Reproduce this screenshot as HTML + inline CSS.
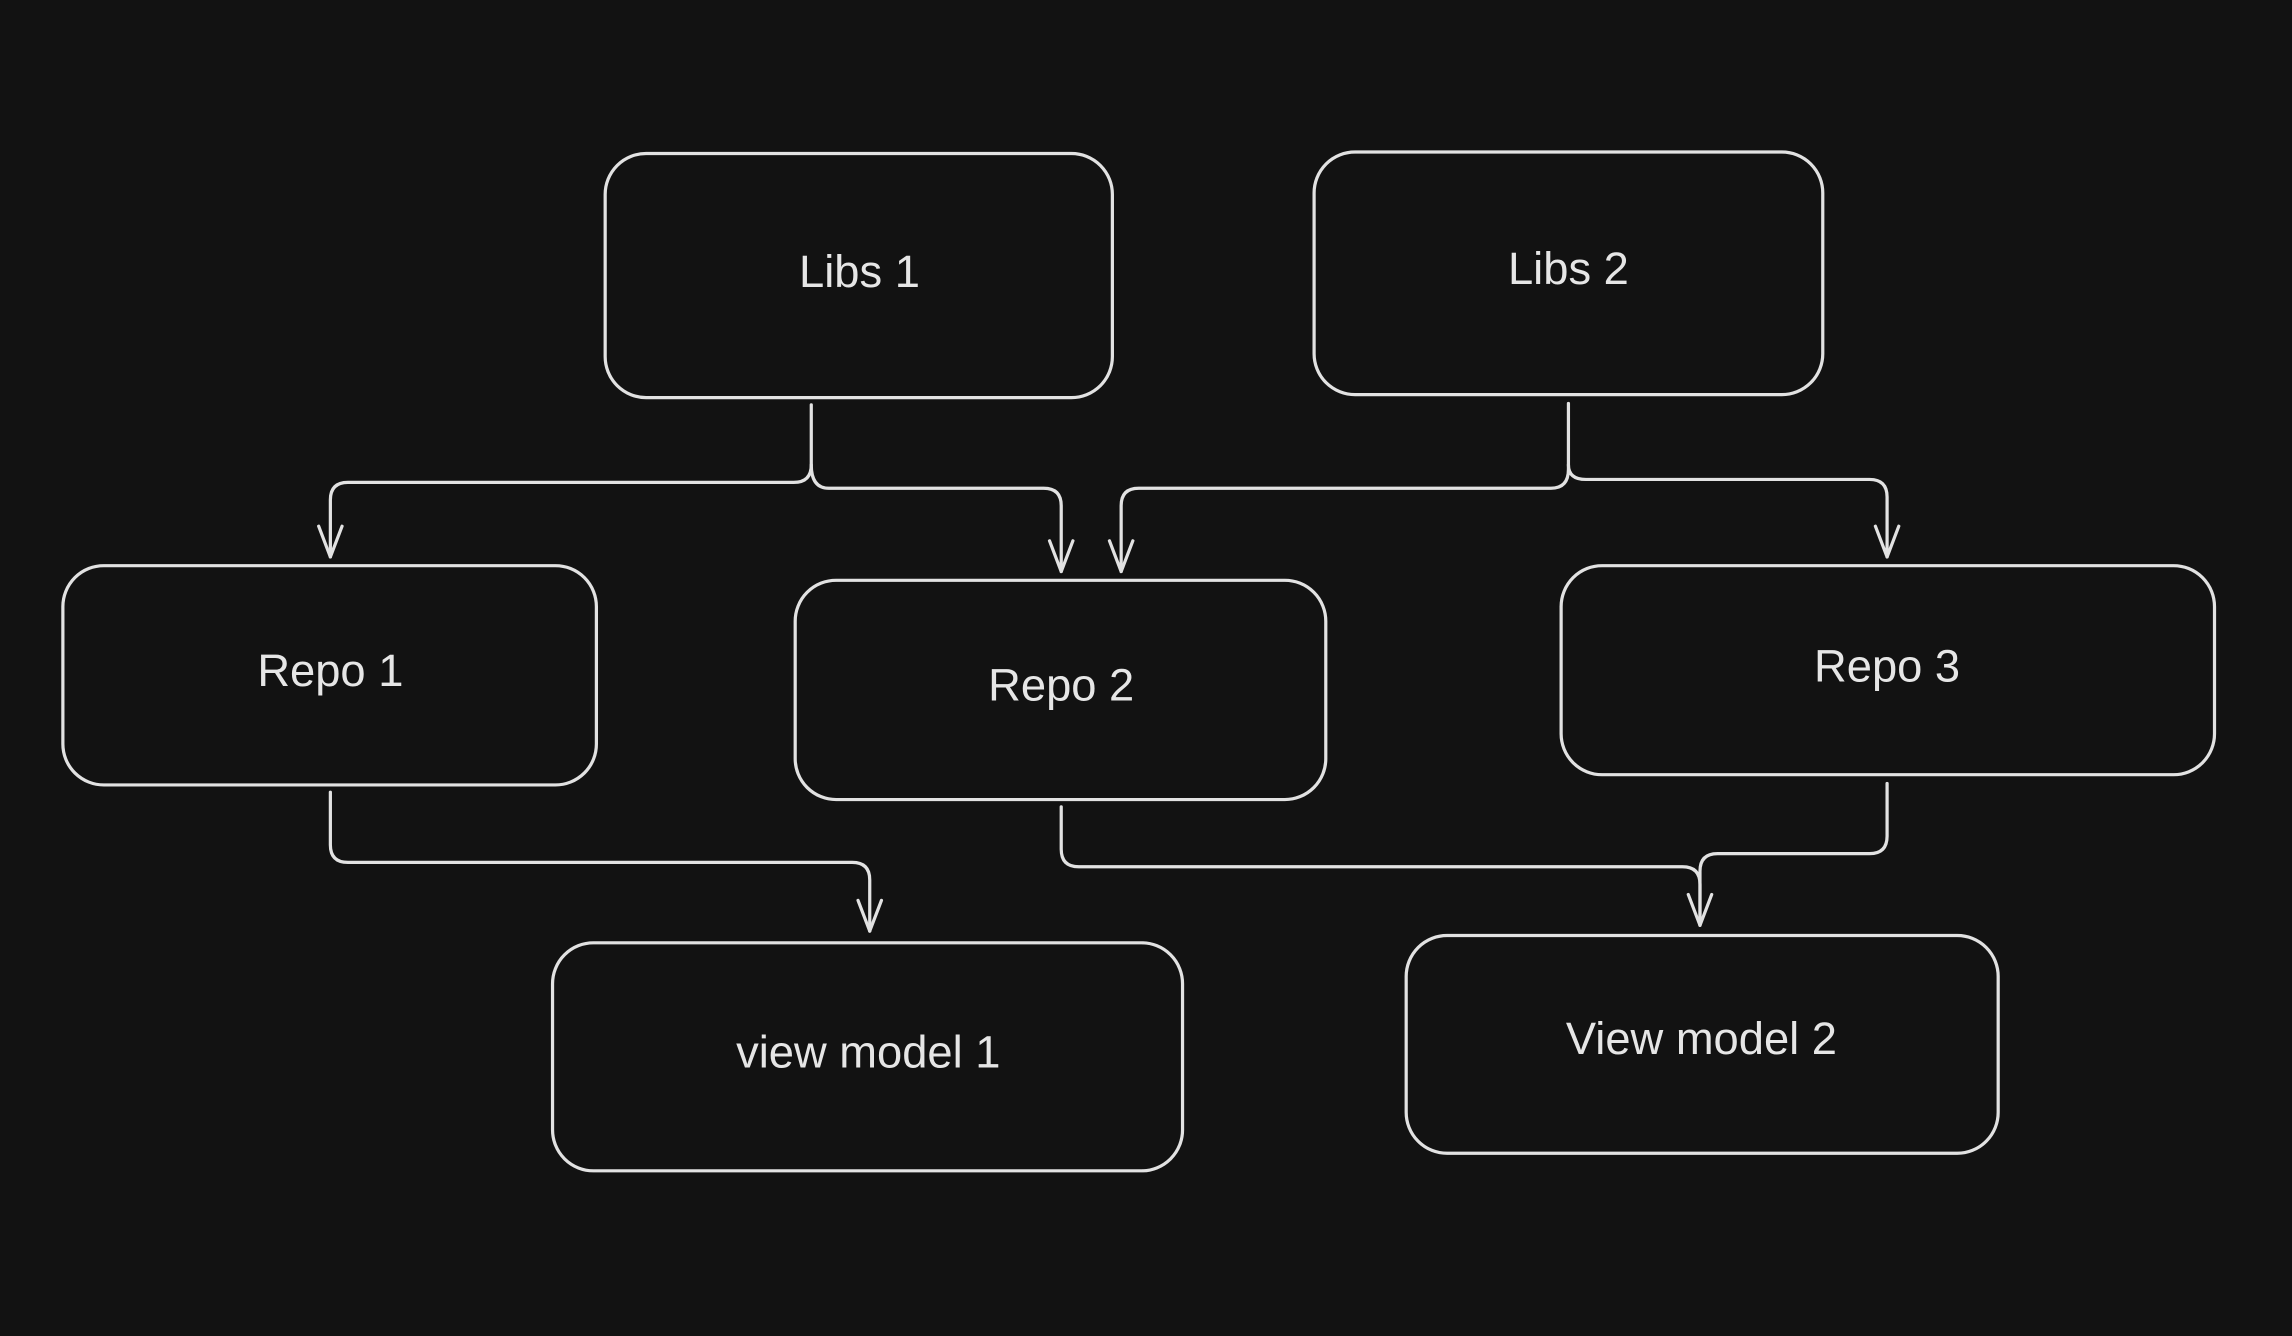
<!DOCTYPE html>
<html><head><meta charset="utf-8"><style>
html,body{margin:0;padding:0;background:#121212;}
svg{display:block;}
text{font-family:"Liberation Sans",sans-serif;font-size:31px;fill:#e6e6e6;text-anchor:middle;dominant-baseline:middle;}
</style></head><body>
<svg width="2292" height="1336" viewBox="0 0 1568 914" xmlns="http://www.w3.org/2000/svg">
<rect width="1568" height="914" fill="#121212"/>
<g fill="none" stroke="#e2e2e2" stroke-width="2.2" stroke-linecap="round" stroke-linejoin="round">
<rect x="414" y="105" width="347" height="167" rx="28"/>
<rect x="899" y="104" width="348" height="166" rx="28"/>
<rect x="43" y="387" width="365" height="150" rx="28"/>
<rect x="544" y="397" width="363" height="150" rx="28"/>
<rect x="1068" y="387" width="447" height="143" rx="28"/>
<rect x="378" y="645" width="431" height="156" rx="28"/>
<rect x="962" y="640" width="405" height="149" rx="28"/>
<!-- Libs1 connectors -->
<path d="M555 277 V318 Q555 330 543 330 H238 Q226 330 226 342 V381"/>
<path d="M218 360 L226 381 L234 360"/>
<path d="M555 318 Q555 334 567 334 H714 Q726 334 726 346 V391"/>
<path d="M718 370 L726 391 L734 370"/>
<!-- Libs2 connectors -->
<path d="M1073 276 V321 Q1073 334 1061 334 H779 Q767 334 767 346 V391"/>
<path d="M759 370 L767 391 L775 370"/>
<path d="M1073 318 Q1073 328 1085 328 H1279 Q1291 328 1291 340 V381"/>
<path d="M1283 360 L1291 381 L1299 360"/>
<!-- Repo1 -->
<path d="M226 542 V578 Q226 590 238 590 H583 Q595 590 595 602 V637"/>
<path d="M587 616 L595 637 L603 616"/>
<!-- Repo2 -->
<path d="M726 552 V581 Q726 593 738 593 H1151 Q1163 593 1163 605 V633"/>
<path d="M1155 612 L1163 633 L1171 612"/>
<!-- Repo3 -->
<path d="M1291 536 V572 Q1291 584 1279 584 H1175 Q1163 584 1163 596 V633"/>
</g>
<text x="588" y="188">Libs 1</text>
<text x="1073" y="186">Libs 2</text>
<text x="226" y="461">Repo 1</text>
<text x="726" y="471">Repo 2</text>
<text x="1291" y="458">Repo 3</text>
<text x="594" y="722">view model 1</text>
<text x="1164" y="713">View model 2</text>
</svg>
</body></html>
